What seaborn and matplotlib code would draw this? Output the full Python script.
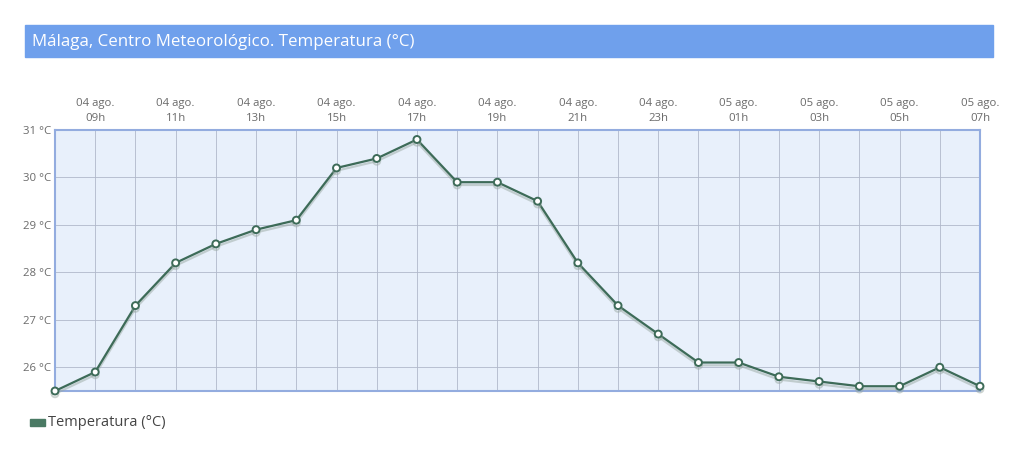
import matplotlib
matplotlib.use("Agg")
import matplotlib.pyplot as plt
import matplotlib.patheffects as pe
import pandas as pd
import seaborn as sns

# datos horarios: 04 ago. 08h -> 05 ago. 07h
dias = ["04 ago."] * 16 + ["05 ago."] * 8
horas = ["08h", "09h", "10h", "11h", "12h", "13h", "14h", "15h", "16h", "17h",
         "18h", "19h", "20h", "21h", "22h", "23h", "00h", "01h", "02h", "03h",
         "04h", "05h", "06h", "07h"]
temperatura = [25.5, 25.9, 27.3, 28.2, 28.6, 28.9, 29.1, 30.2, 30.4, 30.8,
               29.9, 29.9, 29.5, 28.2, 27.3, 26.7, 26.1, 26.1, 25.8, 25.7,
               25.6, 25.6, 26.0, 25.6]

df = pd.DataFrame({"pos": range(len(horas)), "temp": temperatura,
                   "etiqueta": [d + "\n" + h for d, h in zip(dias, horas)]})

sns.set_style("white")
plt.rcParams["font.family"] = ["Open Sans", "DejaVu Sans"]

fig = plt.figure(figsize=(10.36, 4.51), dpi=100)
fig.patch.set_facecolor("white")

# barra de titulo
W, H = 1036, 451
fig.patches.append(plt.Rectangle((25 / W, 1 - 57 / H), (993 - 25) / W, 32 / H,
                                 transform=fig.transFigure, color="#6fa0ec", zorder=0))
fig.text(32 / W, 1 - 42 / H, "Málaga, Centro Meteorológico. Temperatura (°C)",
         color="white", fontsize=12.2, va="center", ha="left")

ax = fig.add_axes([55 / W, 1 - 391 / H, (980 - 55) / W, (391 - 130) / H])
ax.set_facecolor("#e8f0fb")

linea = "#3d6b58"
sns.lineplot(data=df, x="pos", y="temp", ax=ax, color=linea, linewidth=1.6,
             marker="o", markersize=5, markerfacecolor="white",
             markeredgecolor=linea, markeredgewidth=1.4, zorder=5,
             path_effects=[pe.SimpleLineShadow(offset=(0, -2), shadow_color="#9aa9a3", alpha=0.5),
                           pe.Normal()], clip_on=False)

ax.set_xlim(0, len(horas) - 1)
ax.set_ylim(25.5, 31)
ax.set_xticks(df["pos"])
ax.set_xticklabels([e if i % 2 == 1 else "" for i, e in enumerate(df["etiqueta"])],
                   linespacing=1.55)
ax.xaxis.tick_top()
ax.set_yticks([26, 27, 28, 29, 30, 31])
ax.set_yticklabels([f"{v} °C" for v in [26, 27, 28, 29, 30, 31]])
ax.tick_params(axis="both", length=0, labelsize=8.2, labelcolor="#6a6a6a", pad=4)
ax.tick_params(axis="y", pad=3)
ax.grid(True, color="#b0b8ca", linewidth=0.6)
ax.set_axisbelow(True)
for s in ax.spines.values():
    s.set_color("#93acdf")
    s.set_linewidth(1.5)
ax.set_xlabel("")
ax.set_ylabel("")

# leyenda
fig.patches.append(plt.Rectangle((30 / W, 1 - 426 / H), 15 / W, 7 / H,
                                 transform=fig.transFigure, color="#4a7a64"))
fig.text(48 / W, 1 - 422 / H, "Temperatura (°C)", color="#444444", fontsize=10.5,
         va="center", ha="left")

fig.savefig("out.png", dpi=100)
